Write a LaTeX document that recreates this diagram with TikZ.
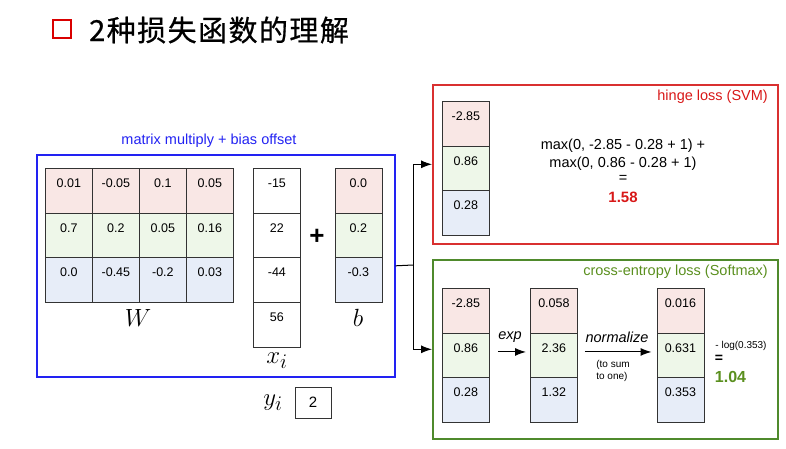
\documentclass[tikz,border=0pt]{standalone}
\usepackage{fontspec}
\setmainfont{Liberation Sans}
\newfontfamily\cjkfont[LetterSpace=5,FakeBold=0.6]{Noto Sans CJK SC}
\usetikzlibrary{arrows.meta}
\definecolor{cpink}{HTML}{F9E7E5}
\definecolor{cgreen}{HTML}{EEF7E9}
\definecolor{cblue}{HTML}{E7EDF8}
\definecolor{bluebd}{HTML}{2222F2}
\definecolor{redbd}{HTML}{D93030}
\definecolor{greenbd}{HTML}{4F8A2C}
\definecolor{redtxt}{HTML}{D81818}
\definecolor{greentxt}{HTML}{5A8F1E}
\definecolor{cellbd}{HTML}{333333}
\tikzset{
  cellbox/.style={draw=cellbd, line width=0.8pt, minimum width=47pt, minimum height=44.7pt, anchor=north west, inner sep=0pt},
  celltxt/.style={font=\fontsize{12.5}{14}\selectfont, inner sep=0pt},
  boxlabel/.style={font=\fontsize{14.5}{17}\selectfont, inner sep=0pt},
  mathlabel/.style={font=\fontsize{24.88}{26}\selectfont, inner sep=0pt},
  formula/.style={font=\fontsize{14.5}{17}\selectfont, inner sep=0pt},
  bigbox/.style={line width=1.6pt, anchor=north west, inner sep=0pt},
  arr/.style={line width=1pt, -{Latex[length=11pt,width=8pt]}},
}
\newcommand\mycell[5]{%
  \node[cellbox, fill=#4] (#1) at (#2,#3) {};
  \node[celltxt] at ([yshift=-15pt]#1.north) {#5};
}
\begin{document}
\begin{tikzpicture}[x=1pt,y=-1pt]
\useasboundingbox (0,0) rectangle (786,448);
% title
\node[draw=red!85!black, line width=2.5pt, minimum width=18pt, minimum height=18pt, inner sep=0pt] (tsq) at (62,29) {};
\node[font=\cjkfont\fontsize{29}{31}\selectfont, anchor=west, inner sep=0pt] (title) at (89,30) {2种损失函数的理解};

% blue box
\node[bigbox, draw=bluebd, minimum width=358pt, minimum height=222pt] (bluebox) at (36,154) {};
\node[boxlabel, text=bluebd] (bluelabel) at (209,141) {matrix multiply + bias offset};

% W matrix
\mycell{w11}{45}{168}{cpink}{0.01}
\mycell{w12}{92}{168}{cpink}{-0.05}
\mycell{w13}{139}{168}{cpink}{0.1}
\mycell{w14}{186}{168}{cpink}{0.05}
\mycell{w21}{45}{212.7}{cgreen}{0.7}
\mycell{w22}{92}{212.7}{cgreen}{0.2}
\mycell{w23}{139}{212.7}{cgreen}{0.05}
\mycell{w24}{186}{212.7}{cgreen}{0.16}
\mycell{w31}{45}{257.4}{cblue}{0.0}
\mycell{w32}{92}{257.4}{cblue}{-0.45}
\mycell{w33}{139}{257.4}{cblue}{-0.2}
\mycell{w34}{186}{257.4}{cblue}{0.03}
\node[mathlabel] (Wl) at (138,318) {$W$};

% x column
\mycell{x1}{253}{168}{white}{-15}
\mycell{x2}{253}{212.7}{white}{22}
\mycell{x3}{253}{257.4}{white}{-44}
\mycell{x4}{253}{302.1}{white}{56}
\node[mathlabel] (xl) at (277,361) {$x_i$};

\node[font=\fontsize{26}{28}\selectfont\bfseries, inner sep=0pt] (plus) at (317,237) {+};

% b column
\mycell{b1}{334.5}{168}{cpink}{0.0}
\mycell{b2}{334.5}{212.7}{cgreen}{0.2}
\mycell{b3}{334.5}{257.4}{cblue}{-0.3}
\node[mathlabel] (bl) at (358,318) {$b$};

% y_i
\node[mathlabel] (yl) at (273,403) {$y_i$};
\node[draw=cellbd, line width=0.8pt, minimum width=36pt, minimum height=31pt, inner sep=0pt, font=\fontsize{15}{17}\selectfont] (yb) at (313,402.5) {2};

% red box
\node[bigbox, draw=redbd, minimum width=345pt, minimum height=159pt] (redbox) at (432,84) {};
\node[boxlabel, text=redtxt, anchor=east] (redlabel) at (768,97) {hinge loss (SVM)};
\mycell{h1}{442}{101}{cpink}{-2.85}
\mycell{h2}{442}{145.7}{cgreen}{0.86}
\mycell{h3}{442}{190.4}{cblue}{0.28}
\node[formula] (f1) at (623,146) {max(0, -2.85 - 0.28 + 1) +};
\node[formula] (f2) at (623,163.5) {max(0, 0.86 - 0.28 + 1)};
\node[formula] (f3) at (623,179) {=};
\node[font=\fontsize{15}{17}\selectfont\bfseries, text=redtxt, inner sep=0pt] (f4) at (623,197) {1.58};

% green box
\node[bigbox, draw=greenbd, minimum width=345pt, minimum height=179pt] (greenbox) at (432,259) {};
\node[boxlabel, text=greentxt, anchor=east] (greenlabel) at (768,272) {cross-entropy loss (Softmax)};
\mycell{s11}{442}{288}{cpink}{-2.85}
\mycell{s12}{442}{332.7}{cgreen}{0.86}
\mycell{s13}{442}{377.4}{cblue}{0.28}
\mycell{s21}{530}{288}{cpink}{0.058}
\mycell{s22}{530}{332.7}{cgreen}{2.36}
\mycell{s23}{530}{377.4}{cblue}{1.32}
\mycell{s31}{656.5}{288}{cpink}{0.016}
\mycell{s32}{656.5}{332.7}{cgreen}{0.631}
\mycell{s33}{656.5}{377.4}{cblue}{0.353}
\draw[arr, shorten <=8pt, shorten >=4pt] ([yshift=3.5pt]s12.east) -- ([yshift=3.5pt]s22.west);
\node[formula, font=\fontsize{14.5}{17}\selectfont\itshape] (expl) at (510,337) {exp};
\draw[arr, shorten <=7pt, shorten >=5pt] ([yshift=3.5pt]s22.east) -- ([yshift=3.5pt]s32.west);
\node[formula, font=\fontsize{14.5}{17}\selectfont\itshape] (norml) at (617,337) {normalize};
\node[font=\fontsize{10}{11.5}\selectfont, align=left, inner sep=0pt] (tosum) at (613,371) {(to sum\\to one)};
\node[font=\fontsize{10}{12}\selectfont, inner sep=0pt] (logl) at (741,346) {- log(0.353)};
\node[font=\fontsize{14}{16}\selectfont\bfseries, inner sep=0pt] (eq2) at (719,359) {=};
\node[font=\fontsize{16}{18}\selectfont\bfseries, text=greentxt, inner sep=0pt] (res2) at (730.5,377) {1.04};

% connectors
\coordinate (j) at (413,265);
\draw[line width=1pt] (bluebox.east) -- (j);
\draw[arr] (j) |- (redbox.west);
\draw[arr] (j) |- (greenbox.west);
\end{tikzpicture}
\end{document}
